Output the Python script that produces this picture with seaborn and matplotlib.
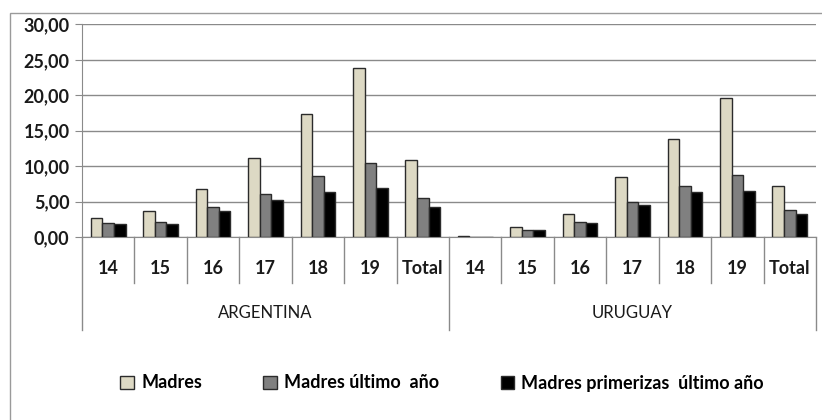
import matplotlib
matplotlib.use("Agg")
import matplotlib.pyplot as plt
import matplotlib.transforms as mtransforms
from matplotlib.patches import Rectangle
import seaborn as sns
import pandas as pd

# Data
paises = ["ARGENTINA", "URUGUAY"]
edades = ["14", "15", "16", "17", "18", "19", "Total"]
series = ["Madres", "Madres último  año", "Madres primerizas  último año"]

madres_arg = [2.74, 3.68, 6.75, 11.18, 17.36, 23.82, 10.85]
ultimo_arg = [1.93, 2.08, 4.20, 6.13, 8.58, 10.38, 5.47]
primer_arg = [1.79, 1.79, 3.73, 5.19, 6.32, 6.98, 4.25]

madres_uru = [0.12, 1.42, 3.21, 8.40, 13.77, 19.62, 7.26]
ultimo_uru = [0.06, 0.99, 2.12, 5.00, 7.26, 8.77, 3.87]
primer_uru = [0.06, 0.99, 1.93, 4.58, 6.32, 6.51, 3.25]

colores = ["#DDD9C4", "#808080", "#000000"]

valores = {
    "ARGENTINA": [madres_arg, ultimo_arg, primer_arg],
    "URUGUAY": [madres_uru, ultimo_uru, primer_uru],
}

rows = []
for pais in paises:
    for s_idx, serie in enumerate(series):
        for e_idx, edad in enumerate(edades):
            rows.append({"clave": f"{pais}|{edad}", "serie": serie,
                         "valor": valores[pais][s_idx][e_idx]})
df = pd.DataFrame(rows)
orden = [f"{p}|{e}" for p in paises for e in edades]

FONT = ["Lato", "DejaVu Sans"]
plt.rcParams["font.family"] = FONT
TXT = "#1a1a1a"

fig = plt.figure(figsize=(8.22, 4.20), dpi=100)
W, H = 822, 420
x0, x1, y0, y1 = 82, 816, 237, 24.3
ax = fig.add_axes([x0 / W, 1 - y0 / H, (x1 - x0) / W, (y0 - y1) / H])

sns.barplot(data=df, x="clave", y="valor", hue="serie", order=orden,
            hue_order=series, palette=colores, width=0.66, gap=0,
            edgecolor="#2b2b2b", linewidth=1.0, saturation=1, ax=ax,
            legend=False, errorbar=None, zorder=3)

ax.set_xlim(-0.5, len(orden) - 0.5)
ax.set_ylim(0, 30)
ax.set_yticks(range(0, 31, 5))
ax.set_yticklabels([f"{v:.2f}".replace(".", ",") for v in range(0, 31, 5)],
                   fontsize=13, color=TXT, fontweight="bold")
ax.tick_params(axis="y", length=5, color="#8a8a8a", pad=4)
ax.grid(axis="y", color="#8a8a8a", linewidth=1.0, zorder=0)
ax.set_axisbelow(True)
for side in ["top", "right"]:
    ax.spines[side].set_visible(False)
ax.spines["left"].set_color("#8a8a8a")
ax.spines["bottom"].set_color("#8a8a8a")
ax.set_xticks([])
ax.set_xlabel("")
ax.set_ylabel("")

# Category labels and dividers below the axis
ax_h = y0 - y1
trans = mtransforms.blended_transform_factory(ax.transData, ax.transAxes)
small_end = -(283 - y0) / ax_h
big_end = -(330 - y0) / ax_h
lab_y = -(268 - y0) / ax_h
grp_y = -(313 - y0) / ax_h

n = len(orden)
for i in range(n + 1):
    xb = i - 0.5
    end = big_end if i % len(edades) == 0 else small_end
    ax.plot([xb, xb], [0, end], transform=trans, color="#8a8a8a",
            linewidth=1.0, clip_on=False)
for i, clave in enumerate(orden):
    ax.text(i, lab_y, clave.split("|")[1], transform=trans, ha="center",
            va="center", fontsize=13, color=TXT, fontweight="bold")
for g, pais in enumerate(paises):
    xc = g * len(edades) + (len(edades) - 1) / 2
    ax.text(xc, grp_y, pais, transform=trans, ha="center", va="center",
            fontsize=12, color=TXT)

# Legend
handles = [Rectangle((0, 0), 1, 1, facecolor=c, edgecolor="#2b2b2b",
                     linewidth=1.0) for c in colores]
fig.legend(handles, series, loc="center", bbox_to_anchor=(0.538, 1 - 383 / H),
           ncol=3, frameon=False, handlelength=0.75,
           handleheight=0.75, handletextpad=0.4, columnspacing=3.4,
           prop={"family": FONT, "size": 13, "weight": "bold"})

# Outer chart border
fig.patches.append(Rectangle((10 / W, -0.1), 1.2, 1 - 13 / H + 0.1,
                             transform=fig.transFigure, fill=False,
                             edgecolor="#9a9a9a", linewidth=1.0))

fig.savefig("out.png", dpi=100)
